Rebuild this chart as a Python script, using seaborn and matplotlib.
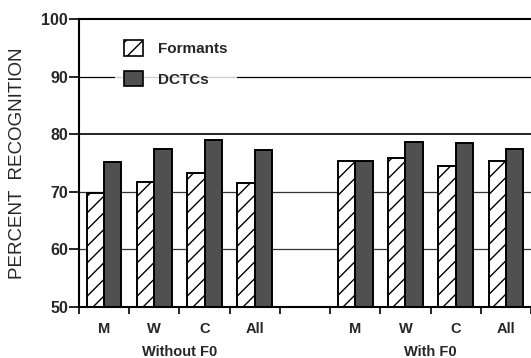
import matplotlib
matplotlib.use("Agg")
import matplotlib.pyplot as plt
from matplotlib.patches import Patch
from matplotlib.transforms import blended_transform_factory
import seaborn as sns
import pandas as pd

speakers = ["M", "W", "C", "All"]
groups = ["Without F0", "With F0"]
features = ["Formants", "DCTCs"]
formants_without = [69.8, 71.7, 73.3, 71.6]
dctcs_without = [75.1, 77.5, 79.0, 77.2]
formants_with = [75.4, 75.8, 74.4, 75.3]
dctcs_with = [75.3, 78.7, 78.4, 77.5]
yticks = [50, 60, 70, 80, 90, 100]

rows = []
for s, f, d in zip(speakers, formants_without, dctcs_without):
    rows.append(("A_" + s, "Formants", f))
    rows.append(("A_" + s, "DCTCs", d))
for s, f, d in zip(speakers, formants_with, dctcs_with):
    rows.append(("B_" + s, "Formants", f))
    rows.append(("B_" + s, "DCTCs", d))
df = pd.DataFrame(rows, columns=["slot", "feature", "percent"])
order = ["A_" + s for s in speakers] + ["gap"] + ["B_" + s for s in speakers]

sns.set_theme(style="white")
plt.rcParams["font.family"] = ["Liberation Sans", "DejaVu Sans"]
plt.rcParams["hatch.linewidth"] = 1.0

DARK = "#505050"

fig = plt.figure(figsize=(5.31, 3.58), dpi=100)
ax = fig.add_axes([79 / 531, 51 / 358, 1 - 79 / 531, 288 / 358])

sns.barplot(data=df, x="slot", y="percent", hue="feature", order=order,
            hue_order=features, palette={"Formants": "white", "DCTCs": DARK},
            errorbar=None, width=0.69, edgecolor="black", linewidth=1.4,
            legend=False, ax=ax, zorder=3)
for p in ax.containers[0]:
    p.set_hatch("//")

ax.set_ylim(50, 100)
ax.set_xlim(-0.5, 8.36)
ax.set_yticks(yticks)
ax.set_yticklabels([str(v) for v in yticks], fontsize=11.5, fontweight="bold")
for v in [60, 70, 80, 90]:
    ax.axhline(v, color="black" if v >= 80 else "#333333",
               lw=1.2 if v == 80 else 0.9, zorder=1)

pos = [0, 1, 2, 3, 5, 6, 7, 8]
ax.set_xticks(pos)
ax.set_xticklabels(speakers * 2, fontsize=10.5, fontweight="bold")
ax.set_xticks([i - 0.5 for i in range(10)], minor=True)
ax.tick_params(axis="x", which="major", length=0, pad=11)
ax.tick_params(axis="x", which="minor", length=5, width=1.2, direction="out", color="black", bottom=True)
ax.tick_params(axis="y", which="major", length=7, width=1.2, direction="out", color="black", left=True, pad=1)
ax.set_xlabel("")
ax.set_ylabel("PERCENT  RECOGNITION", fontsize=13.5)
ax.yaxis.set_label_coords(-0.117, 0.5)

for sp in ["left", "bottom", "top"]:
    ax.spines[sp].set_visible(True)
    ax.spines[sp].set_color("black")
    ax.spines[sp].set_linewidth(1.5)
    ax.spines[sp].set_zorder(4)
ax.spines["right"].set_visible(False)

tr = blended_transform_factory(ax.transData, ax.transAxes)
ax.text(1.5, -0.155, groups[0], transform=tr, ha="center", va="center", fontsize=10.5, fontweight="bold")
ax.text(6.5, -0.155, groups[1], transform=tr, ha="center", va="center", fontsize=10.5, fontweight="bold")

handles = [Patch(facecolor="white", edgecolor="black", hatch="//", lw=1.2),
           Patch(facecolor=DARK, edgecolor="black", lw=1.2)]
leg = ax.legend(handles, features, loc="upper left", bbox_to_anchor=(0.063, 0.985),
                frameon=True, fancybox=False, handlelength=1.2, handleheight=1.2,
                handletextpad=1.0, labelspacing=0.95, borderpad=0.6,
                prop={"size": 11, "weight": "bold"})
leg.get_frame().set_facecolor("white")
leg.get_frame().set_edgecolor("none")
leg.set_zorder(5)

fig.savefig("out.png", dpi=100)
